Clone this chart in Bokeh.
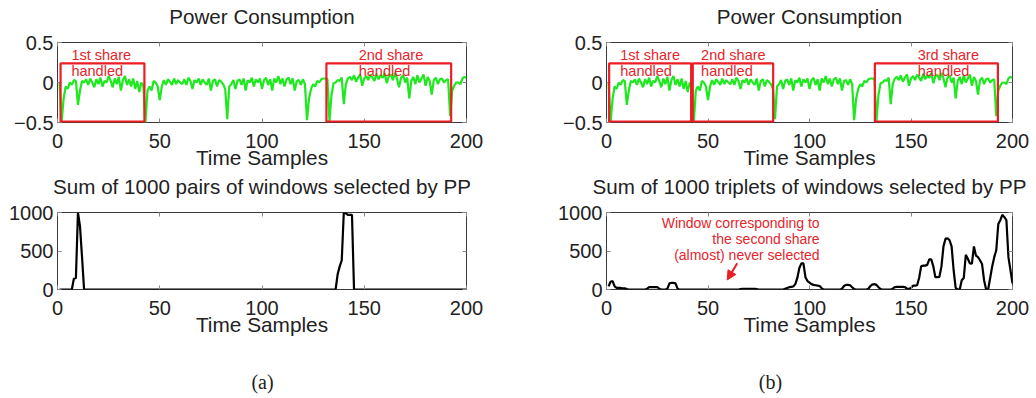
from bokeh.plotting import figure
from bokeh.layouts import column, row
from bokeh.models import (Range1d, FixedTicker, LinearAxis, BoxAnnotation, Arrow, NormalHead,
                          ColumnDataSource, CustomLabelingPolicy)
from bokeh.core.properties import value
from bokeh.embed import file_html
from bokeh.resources import INLINE

# ---------------- data ----------------
time_samples = list(range(1, 201))

power = [
    0.0, -0.5, -0.2, -0.05, -0.08, 0.0, -0.03, 0.03, 0.02, -0.28,
    -0.1, 0.02, 0.0, 0.04, -0.03, 0.05, 0.0, -0.06, 0.04, -0.02,
    0.06, -0.05, 0.02, 0.0, 0.08, 0.02, -0.06, 0.05, -0.02, 0.07,
    -0.1, 0.03, 0.08, -0.03, 0.04, -0.05, 0.05, -0.08, 0.02, -0.12,
    0.0, -0.04, -0.5, -0.1, -0.05, -0.1, 0.02, 0.0, -0.05, -0.22,
    -0.05, 0.03, -0.03, 0.04, 0.01, -0.03, 0.05, -0.02, 0.03, 0.0,
    -0.02, 0.04, -0.03, 0.06, 0.02, -0.08, 0.03, 0.0, 0.05, -0.03,
    0.04, 0.0, -0.03, 0.05, -0.1, 0.02, 0.04, -0.05, 0.03, 0.01,
    -0.02, -0.08, -0.46, -0.05, -0.02, 0.03, -0.08, 0.02, 0.04, -0.03,
    0.05, -0.1, 0.03, 0.0, 0.06, -0.05, 0.04, 0.0, 0.05, -0.08,
    0.03, 0.06, -0.03, 0.04, -0.1, 0.05, 0.0, 0.08, -0.02, 0.05,
    -0.05, 0.04, 0.06, -0.02, 0.05, -0.1, 0.02, 0.03, -0.03, 0.04,
    -0.02, -0.47, -0.2, -0.08, -0.02, -0.05, 0.02, 0.0, 0.04, 0.05,
    0.05, 0.04, -0.48, -0.15, -0.01, 0.0, 0.03, 0.02, 0.06, -0.27,
    -0.02, 0.05, 0.07, 0.03, 0.09, 0.01, 0.06, 0.1, -0.04, 0.05,
    0.08, 0.03, 0.1, 0.06, 0.02, 0.11, 0.04, 0.09, 0.06, 0.12,
    -0.01, 0.08, 0.1, 0.03, 0.12, 0.05, -0.06, 0.06, 0.09, 0.0,
    0.06, -0.2, 0.02, 0.07, -0.02, 0.09, 0.0, 0.05, 0.1, -0.04,
    0.07, 0.02, -0.15, 0.03, 0.06, -0.02, 0.04, 0.05, 0.0, 0.03,
    0.04, -0.42, -0.1, -0.04, 0.0, 0.0, -0.02, 0.05, 0.07, 0.06,
]

pairs_sum = ([0] * 7 + [140, 150, 1000, 820, 420] + [0] * 124
             + [200, 300, 380, 1000, 990, 970, 970, 970] + [0] * 56)

triplets_sum = (
    [40, 100, 110, 40, 20, 20, 20, 15, 15, 5]
    + [0] * 9
    + [10, 30, 30, 30, 30, 30, 10]
    + [0] * 3
    + [10, 80, 85, 85, 80, 10]
    + [0] * 30
    + [5, 10, 10, 10, 10, 10, 10, 10, 5]
    + [0] * 13
    + [10, 20, 30, 35, 40, 70, 150, 280, 340, 340, 160, 110, 90, 70, 60, 55, 50, 45, 15]
    + [0] * 9
    + [10, 45, 60, 60, 55, 30, 5]
    + [0] * 6
    + [10, 45, 65, 70, 60, 30, 5]
    + [0] * 5
    + [10, 30, 35, 35, 35, 35, 30, 10,
       10, 20, 50, 50, 55, 150, 300, 310, 310, 320, 390, 390, 300, 160, 160, 165,
       300, 560, 660, 665, 640, 560, 250, 20, 0, 0, 120, 150, 450, 400, 340, 335,
       560, 440, 420, 380, 330, 120, 0, 0, 150, 300, 420, 510, 850, 900, 970, 940,
       900, 420, 250, 80]
)

x_ticks = [0, 50, 100, 150, 200]
power_ticks = [-0.5, 0, 0.5]
power_tick_labels = {-0.5: "\u22120.5", 0: "0", 0.5: "0.5"}
count_ticks = [0, 500, 1000]

# share windows (a) and (b)
shares_a_left = [1.5, 131.5]
shares_a_right = [42.5, 192.5]
shares_a_text = ["1st share", "2nd share"]
shares_a_text_x = [6.8, 147.3]

shares_b_left = [1.3, 42.5, 132.2]
shares_b_right = [41.7, 82.1, 192.8]
shares_b_text = ["1st share", "2nd share", "3rd share"]
shares_b_text_x = [6.8, 46.6, 153.3]

share_bottom, share_top = -0.49, 0.24
text_line1_y, text_line2_y = 0.35, 0.15

note_lines = ["Window corresponding to", "the second share", "(almost) never selected"]
note_x = 105
note_y = [862, 662, 446]
arrow_tail = (64.4, 341)
arrow_head = (59.5, 125)

captions = ["(a)", "(b)"]
caption_x = [262, 770]
caption_y = [17, 17]

# ---------------- style ----------------
FONT = "Liberation Sans"
TXT = "#222222"
RED = "#ee1c24"
TXT_RED = "#e4262c"
GREEN = "#1ee81e"


def no_labels():
    return CustomLabelingPolicy(code="return new Set()")


def make_panel(width, height, bl, br, bt, bb, title, yr, yticks, ylabels=None):
    p = figure(width=width, height=height, output_backend="svg", toolbar_location=None,
               title=None,
               x_range=Range1d(0, 200), y_range=Range1d(*yr),
               min_border_left=bl, min_border_right=br, min_border_top=bt, min_border_bottom=bb)
    p.xgrid.visible = False
    p.ygrid.visible = False
    p.outline_line_color = "#3a3a3a"
    p.outline_line_width = 1
    p.background_fill_color = "white"
    p.border_fill_color = "white"

    xa = p.xaxis[0]
    xa.ticker = FixedTicker(ticks=x_ticks)
    xa.axis_label = "Time Samples"
    ya = p.yaxis[0]
    ya.ticker = FixedTicker(ticks=yticks)
    if ylabels:
        ya.major_label_overrides = ylabels
    for ax in (xa, ya):
        ax.major_label_text_font = FONT
        ax.major_label_text_font_size = "20px"
        ax.major_label_text_color = TXT
        ax.axis_label_text_font = FONT
        ax.axis_label_text_font_size = "20.8px"
        ax.axis_label_text_font_style = "normal"
        ax.axis_label_text_color = TXT
        ax.axis_line_color = None
        ax.major_tick_in = 4
        ax.major_tick_out = 0
        ax.major_tick_line_color = "#888888"
        ax.minor_tick_line_color = None
    xa.major_label_standoff = 11
    xa.axis_label_standoff = -5
    ya.major_label_standoff = 4

    # top axis: inner ticks, no tick labels, panel title as its label
    top = LinearAxis(ticker=FixedTicker(ticks=x_ticks), major_label_policy=no_labels(),
                     major_label_text_font_size="1px",
                     major_tick_in=4, major_tick_out=0, axis_line_color=None,
                     major_tick_line_color="#888888", minor_tick_line_color=None,
                     major_label_standoff=0,
                     axis_label=title, axis_label_standoff=11,
                     axis_label_text_font=FONT, axis_label_text_font_size="20.6px",
                     axis_label_text_font_style="normal", axis_label_text_color=TXT)
    right = LinearAxis(ticker=FixedTicker(ticks=yticks), major_label_policy=no_labels(),
                       major_label_text_font_size="1px",
                       major_tick_in=4, major_tick_out=0, axis_line_color=None,
                       major_tick_line_color="#888888", minor_tick_line_color=None,
                       major_label_standoff=0)
    p.add_layout(top, "above")
    p.add_layout(right, "right")
    return p


def add_shares(p, lefts, rights, texts, text_x):
    for l, r in zip(lefts, rights):
        p.add_layout(BoxAnnotation(left=l, right=r, bottom=share_bottom, top=share_top,
                                   fill_alpha=0, line_color=RED, line_alpha=1, line_width=2.2))
    src = ColumnDataSource(dict(x=text_x, y1=[text_line1_y] * len(texts), y2=[text_line2_y] * len(texts),
                                t1=texts, t2=["handled"] * len(texts)))
    p.text(x="x", y="y1", text="t1", source=src, text_font=value(FONT), text_font_size="14.5px",
           text_color=TXT_RED, text_baseline="middle", text_align="left")
    p.text(x="x", y="y2", text="t2", source=src, text_font=value(FONT), text_font_size="14.5px",
           text_color=TXT_RED, text_baseline="middle", text_align="left")


H1, H2, H3 = 171, 168, 59

# (a) top
p1 = make_panel(518, H1, 57, 52, 42, 49, "Power Consumption", (-0.5, 0.5), power_ticks, power_tick_labels)
p1.line(time_samples, power, line_color=GREEN, line_width=2.2)
add_shares(p1, shares_a_left, shares_a_right, shares_a_text, shares_a_text_x)

# (b) top
p2 = make_panel(518, H1, 88, 24, 42, 49, "Power Consumption", (-0.5, 0.5), power_ticks, power_tick_labels)
p2.line(time_samples, power, line_color=GREEN, line_width=2.2)
add_shares(p2, shares_b_left, shares_b_right, shares_b_text, shares_b_text_x)

# (a) bottom
p3 = make_panel(518, H2, 57, 52, 38, 50, "Sum of 1000 pairs of windows selected by PP", (0, 1000), count_ticks)
p3.line(time_samples, pairs_sum, line_color="black", line_width=2.2)

# (b) bottom
p4 = make_panel(518, H2, 88, 24, 38, 50, "Sum of 1000 triplets of windows selected by PP", (0, 1000), count_ticks)
p4.line(time_samples, triplets_sum, line_color="black", line_width=2.2)
p4.text(x=[note_x] * 3, y=note_y, text=note_lines, text_font=value(FONT), text_font_size="14px",
        text_color=TXT_RED, text_baseline="middle", text_align="right")
p4.add_layout(Arrow(end=NormalHead(size=9, fill_color=RED, line_color=RED),
                    x_start=arrow_tail[0], y_start=arrow_tail[1],
                    x_end=arrow_head[0], y_end=arrow_head[1],
                    line_color=RED, line_width=2))

# captions
cap = figure(width=1036, height=H3, output_backend="svg", toolbar_location=None,
             x_range=Range1d(0, 1036), y_range=Range1d(0, H3),
             x_axis_type=None, y_axis_type=None, min_border=0)
cap.outline_line_color = None
cap.xgrid.visible = False
cap.ygrid.visible = False
cap.text(x=caption_x, y=caption_y, text=captions, text_font=value("Liberation Serif"),
         text_font_size="20px", text_color=TXT, text_align="center", text_baseline="middle")

layout = column(row(p1, p2), row(p3, p4), cap)

open("out.html", "w").write(file_html(layout, INLINE))
